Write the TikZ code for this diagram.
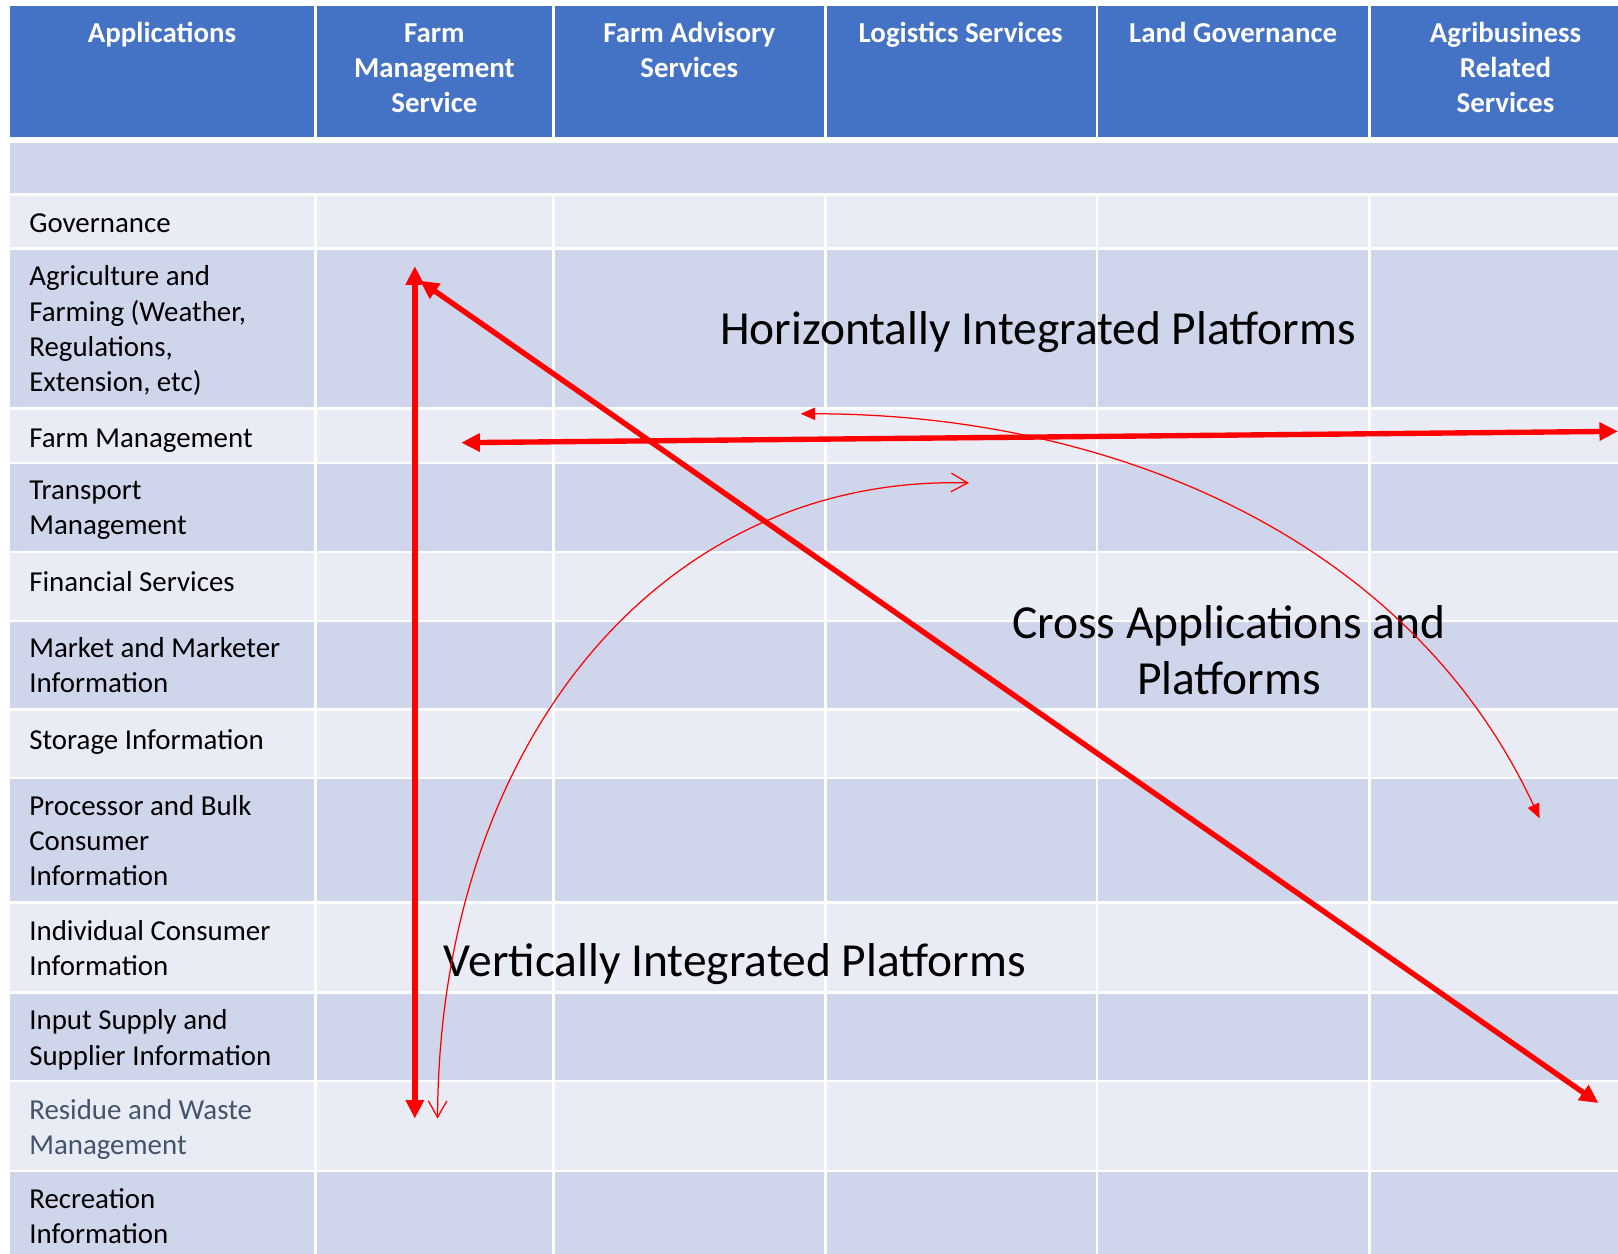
\documentclass[tikz,border=0pt]{standalone}
\usepackage{fontspec}
\setmainfont{Carlito}
\usetikzlibrary{arrows.meta}
\definecolor{hdr}{HTML}{4472C4}
\definecolor{rowD}{HTML}{CFD5EA}
\definecolor{rowL}{HTML}{E9EBF5}
\definecolor{arrred}{HTML}{FF0000}
\definecolor{grayt}{HTML}{44546A}
\begin{document}
\begin{tikzpicture}[x=0.5pt,y=-0.5pt,
  hdrtext/.style={font=\fontsize{14}{17}\selectfont\bfseries, text=white, align=center, anchor=north, inner sep=0pt},
  rowtext/.style={font=\fontsize{14}{17}\selectfont, align=left, anchor=west, inner sep=0pt,
     execute at begin node=\strut, execute at end node=\strut},
  bigtext/.style={font=\fontsize{23}{27.5}\selectfont, inner sep=0pt},
  bigarrow/.style={draw=arrred, line width=2.6pt, {Triangle[length=9pt,width=8.5pt]}-{Triangle[length=9pt,width=8.5pt]}},
  thinfill/.style={draw=arrred, line width=0.6pt, {Triangle[length=7pt,width=6pt]}-{Triangle[length=7pt,width=6pt]}},
  thinopen/.style={draw=arrred, line width=0.6pt, {Straight Barb[length=8pt,width=9pt]}-{Straight Barb[length=8pt,width=9pt]}}
]
\useasboundingbox (0,0) rectangle (1568,1215);
\clip (0,0) rectangle (1568,1215);
\fill[white] (0,0) rectangle (1568,1215);
% rows
\foreach \t/\b/\c in {6/132.5/hdr, 139/187.5/rowD, 190/239.5/rowL, 242/394.5/rowD, 397/447.5/rowL,
  450/533.5/rowD, 536/600.5/rowL, 603/686.5/rowD, 689/752.5/rowL, 755/873.5/rowD,
  876/960.5/rowL, 963/1046.5/rowD, 1049/1133.5/rowL, 1136/1240/rowD}
  \fill[\c] (9.5,\t) rectangle (1600,\b);
% column separators (the blank row is one merged cell)
\foreach \x in {305.75, 536.5, 800, 1063.25, 1327.25}{
  \draw[white, line width=1.25pt] (\x,0) -- (\x,136);
  \draw[white, line width=1.25pt] (\x,188.5) -- (\x,1240);
}
% header texts
\node[hdrtext] (hApp)  at (157,17.2)  {\strut Applications};
\node[hdrtext] (hFM)   at (421,17.2)  {\strut Farm\\Management\\Service};
\node[hdrtext] (hFA)   at (668,17.2)  {\strut Farm Advisory\\Services};
\node[hdrtext] (hLog)  at (931,17.2)  {\strut Logistics Services};
\node[hdrtext] (hLand) at (1195,17.2) {\strut Land Governance};
\node[hdrtext] (hAgri) at (1459,17.2) {\strut Agribusiness\\Related\\Services};
% row texts
\node[rowtext] (rGov)  at (28,218.5)  {Governance};
\node[rowtext] (rAgri) at (28,323.5) {Agriculture and\\Farming (Weather,\\Regulations,\\Extension, etc)};
\node[rowtext] (rFM)   at (28,426.5)  {Farm Management};
\node[rowtext] (rTr)   at (28,497.5)  {Transport\\Management};
\node[rowtext] (rFin)  at (28,566.5)  {Financial Services};
\node[rowtext] (rMkt)  at (28,649.5)  {Market and Marketer\\Information};
\node[rowtext] (rSto)  at (28,719.5)  {Storage Information};
\node[rowtext] (rProc) at (28,819.5)  {Processor and Bulk\\Consumer\\Information};
\node[rowtext] (rInd)  at (28,923.5)  {Individual Consumer\\Information};
\node[rowtext] (rInp)  at (28,1010.5) {Input Supply and\\Supplier Information};
\node[rowtext, text=grayt] (rRes) at (28,1097.5) {Residue and Waste\\Management};
\node[rowtext] (rRec)  at (28,1183.5) {Recreation\\Information};
% big labels
\node[bigtext, anchor=base] (lHor) at (1006,334) {Horizontally Integrated Platforms};
\node[bigtext, align=center, anchor=north] (lCross) at (1191,579.5) {\strut Cross Applications and\\Platforms};
\node[bigtext, anchor=base] (lVert) at (712,946) {Vertically Integrated Platforms};
% arrow end points
\coordinate (vTop) at (402,258);
\coordinate (vBot) at (402,1084);
\coordinate (dTop) at (407,272);
\coordinate (dBot) at (1549,1069);
\coordinate (hL) at (447,429);
\coordinate (hR) at (1568,418);
\coordinate (aL) at (776,401);
\coordinate (aR) at (1492,793);
\coordinate (bT) at (939,468);
\coordinate (bB) at (424,1084);
% arrows
\draw[bigarrow] (vBot) -- (vTop);
\draw[bigarrow] (dTop) -- (dBot);
\draw[bigarrow] (hL) -- (hR);
\draw[thinfill] (aL) .. controls (1076,401) and (1365,520) .. (aR);
\draw[thinopen] (bB) .. controls (426,720) and (640,460) .. (bT);
\end{tikzpicture}
\end{document}
